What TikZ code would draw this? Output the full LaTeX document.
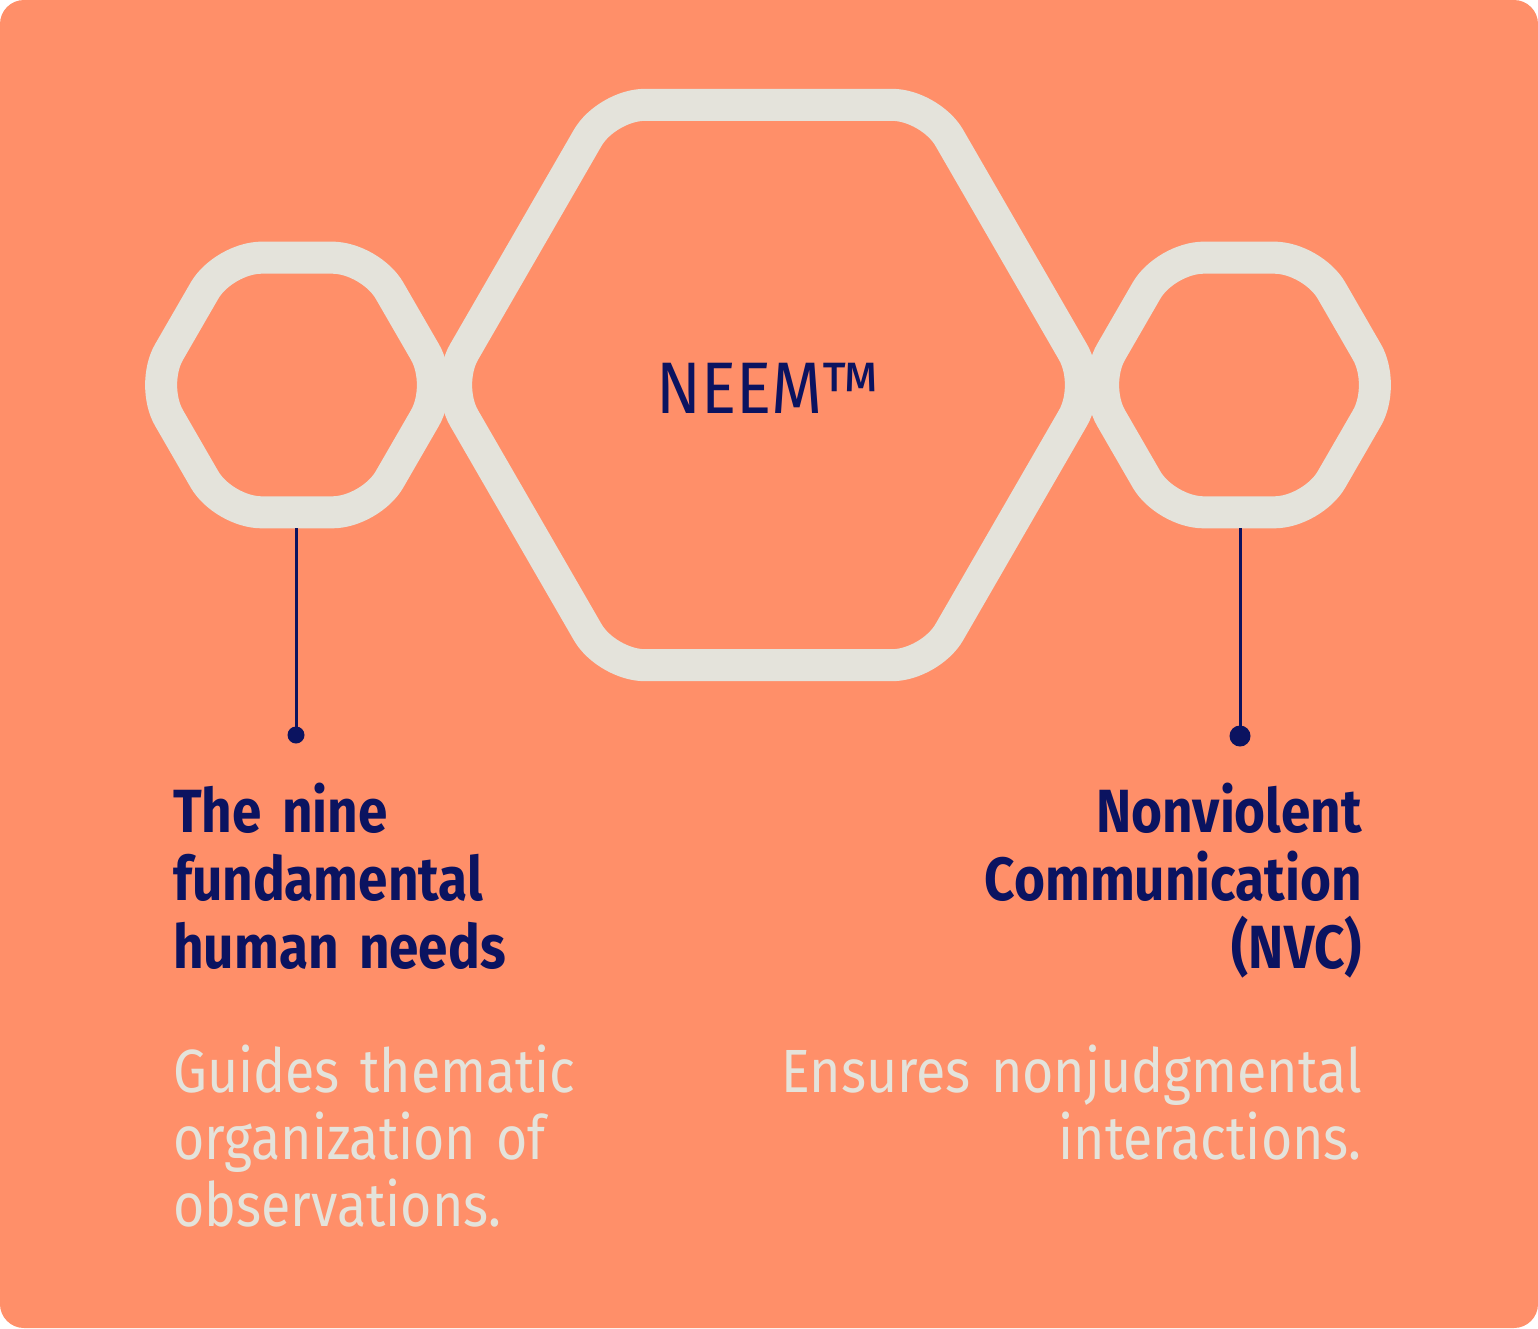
\documentclass[tikz,border=0pt]{standalone}
\usepackage{fontspec}
\setmainfont{Fira Sans}
\newfontfamily\headfont[FakeStretch=0.87, WordSpace=0.8]{Fira Sans}
\newfontfamily\bodyfont[FakeStretch=0.88, WordSpace=0.9]{Fira Sans}
\newfontfamily\neemfont[FakeStretch=0.9]{Fira Sans}
\definecolor{bgc}{RGB}{255,143,105}
\definecolor{hexc}{RGB}{228,227,219}
\definecolor{navy}{RGB}{11,19,96}
\tikzset{
  hexring/.style={draw=hexc, line width=32pt, rounded corners=38pt, line join=round},
  leader/.style={draw=navy, line width=3pt},
  headtxt/.style={text=navy, font=\headfont\fontsize{61}{68}\selectfont\bfseries, inner sep=0pt, text width=700pt},
  bodytxt/.style={text=hexc, font=\bodyfont\fontsize{61}{67}\selectfont, inner sep=0pt, text width=800pt},
}
\newcommand{\hexpath}[3]{% cx, cy, R
  \path[hexring] ({#1},{-(#2)+0.8660254*#3}) -- ({#1+0.5*#3},{-(#2)+0.8660254*#3}) -- ({#1+#3},{-(#2)})
   -- ({#1+0.5*#3},{-(#2)-0.8660254*#3}) -- ({#1-0.5*#3},{-(#2)-0.8660254*#3}) -- ({#1-#3},{-(#2)})
   -- ({#1-0.5*#3},{-(#2)+0.8660254*#3}) -- cycle;}
\begin{document}
\begin{tikzpicture}[x=1pt,y=1pt]
\useasboundingbox (0,0) rectangle (1538,-1328);
\fill[white] (0,0) rectangle (1538,-1328);
\fill[bgc, rounded corners=24pt] (0,0) rectangle (1538,-1328);
\hexpath{768.5}{385}{323.5}
\hexpath{297}{385}{147}
\hexpath{1239}{385}{147}
\coordinate (ltop) at (296,-528);
\coordinate (rtop) at (1240,-528);
\node[circle, fill=navy, inner sep=0pt, minimum size=17pt] (ldot) at (296,-735) {};
\node[circle, fill=navy, inner sep=0pt, minimum size=21pt] (rdot) at (1240,-736) {};
\draw[leader] (ltop) -- (ldot.center);
\draw[leader] (rtop) -- (rdot.center);
\node[text=navy, font=\neemfont\fontsize{73}{80}\selectfont, anchor=base, inner sep=0pt] (neem) at (768,-413) {NEEM™};
\node[headtxt, anchor=base west, align=left] (lhead) at (173,-832) {The nine\\fundamental\\human needs};
\node[headtxt, anchor=base east, align=right] (rhead) at (1362,-832) {Nonviolent\\Communication\\(NVC)};
\node[bodytxt, anchor=base west, align=left] (lbody) at (173,-1092) {Guides thematic\\organization of\\observations.};
\node[bodytxt, anchor=base east, align=right] (rbody) at (1362,-1092) {Ensures nonjudgmental\\interactions.};
\end{tikzpicture}
\end{document}
